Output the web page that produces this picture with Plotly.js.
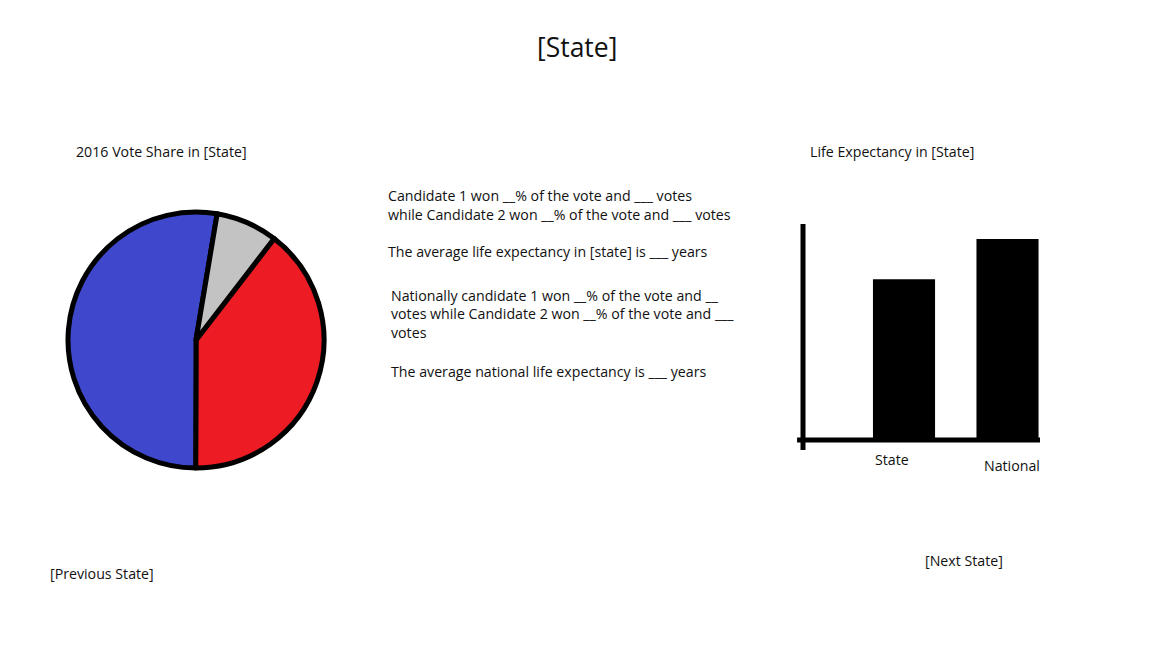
<!DOCTYPE html>
<html>
<head>
<meta charset="utf-8">
<script src="https://cdn.plot.ly/plotly-3.0.1.min.js"></script>
<style>html,body{margin:0;padding:0;background:#fff;}#chart{width:1152px;height:648px;}</style>
</head>
<body>
<div id="chart"></div>
<script>
// ---- data ----
const pieLabels = ['Candidate 2', 'Candidate 1', 'Other'];
const pieValues = [39.6, 52.6, 7.8];
const pieColors = ['#ED1C24', '#3F48CC', '#C3C3C3'];

const barCategories = ['State', 'National'];
const barValues = [64, 80];

const infoLines = [
  'Candidate 1 won __% of the vote and ___ votes',
  'while Candidate 2 won __% of the vote and ___ votes',
  'The average life expectancy in [state] is ___ years',
  'Nationally candidate 1 won __% of the vote and __',
  'votes while Candidate 2 won __% of the vote and ___',
  'votes',
  'The average national life expectancy is ___ years'
];
const infoLineY = [195, 214, 252, 295, 314, 333, 371];
const infoLineX = [388, 388, 388, 391, 391, 391, 391];

// ---- layout helpers ----
const W = 1152, H = 648;
const px = x => x / W;
const py = y => 1 - y / H;
const FONT = 'Open Sans, sans-serif';
const TXT = '#111';
const FS = 14.2;

const pieTrace = {
  type: 'pie',
  labels: pieLabels,
  values: pieValues,
  sort: false,
  direction: 'clockwise',
  rotation: 37.6,
  marker: { colors: pieColors, line: { color: '#000', width: 5 } },
  textinfo: 'none',
  hoverinfo: 'label+percent',
  showlegend: false,
  domain: { x: [px(68), px(324)], y: [py(468), py(212)] }
};

const barTrace = {
  type: 'bar',
  x: barCategories,
  y: barValues,
  width: 0.6,
  marker: { color: '#000' },
  xaxis: 'x',
  yaxis: 'y',
  showlegend: false,
  hoverinfo: 'x+y'
};

const annotations = [];
function addText(text, x, y, size, xanchor) {
  const left = (xanchor || 'left') === 'left';
  annotations.push({
    text: text, xref: 'paper', yref: 'paper', x: px(left ? x - 2 : x), y: py(y),
    xanchor: xanchor || 'left', yanchor: 'middle', showarrow: false,
    font: { family: FONT, size: size, color: TXT }
  });
}
addText('[State]', 577, 47, 26.5, 'center');
addText('2016 Vote Share in [State]', 76, 151, FS);
addText('Life Expectancy in [State]', 810, 151, FS);
infoLines.forEach((t, i) => addText(t, infoLineX[i], infoLineY[i], FS));
addText('[Previous State]', 50, 573, FS);
addText('[Next State]', 925, 560, FS);

// category labels under bars
const catShift = [[-12, -19], [4, -25]];
barCategories.forEach((c, i) => {
  annotations.push({
    text: c, xref: 'x', yref: 'y domain', x: c, y: 0,
    xanchor: 'center', yanchor: 'middle', showarrow: false,
    xshift: catShift[i][0], yshift: catShift[i][1],
    font: { family: FONT, size: FS, color: TXT }
  });
});

const layout = {
  width: W, height: H,
  margin: { l: 0, r: 0, t: 0, b: 0 },
  paper_bgcolor: '#fff', plot_bgcolor: 'rgba(0,0,0,0)',
  xaxis: {
    domain: [px(803), px(1040)], anchor: 'y', type: 'category',
    range: [-0.976, 1.314], showticklabels: false, showgrid: false,
    zeroline: false, showline: false, ticks: ''
  },
  yaxis: {
    domain: [py(440), py(224)], anchor: 'x', range: [0, 86],
    showticklabels: false, showgrid: false, zeroline: false, showline: false, ticks: ''
  },
  shapes: [
    { type: 'line', xref: 'x domain', yref: 'y domain', x0: 0, x1: 0, y0: -0.046, y1: 1,
      line: { color: '#000', width: 5 } },
    { type: 'line', xref: 'x domain', yref: 'y domain', x0: -0.025, x1: 1, y0: 0, y1: 0,
      line: { color: '#000', width: 5 } }
  ],
  annotations: annotations,
  font: { family: FONT }
};

Plotly.newPlot('chart', [pieTrace, barTrace], layout, { displayModeBar: false });
</script>
</body>
</html>
